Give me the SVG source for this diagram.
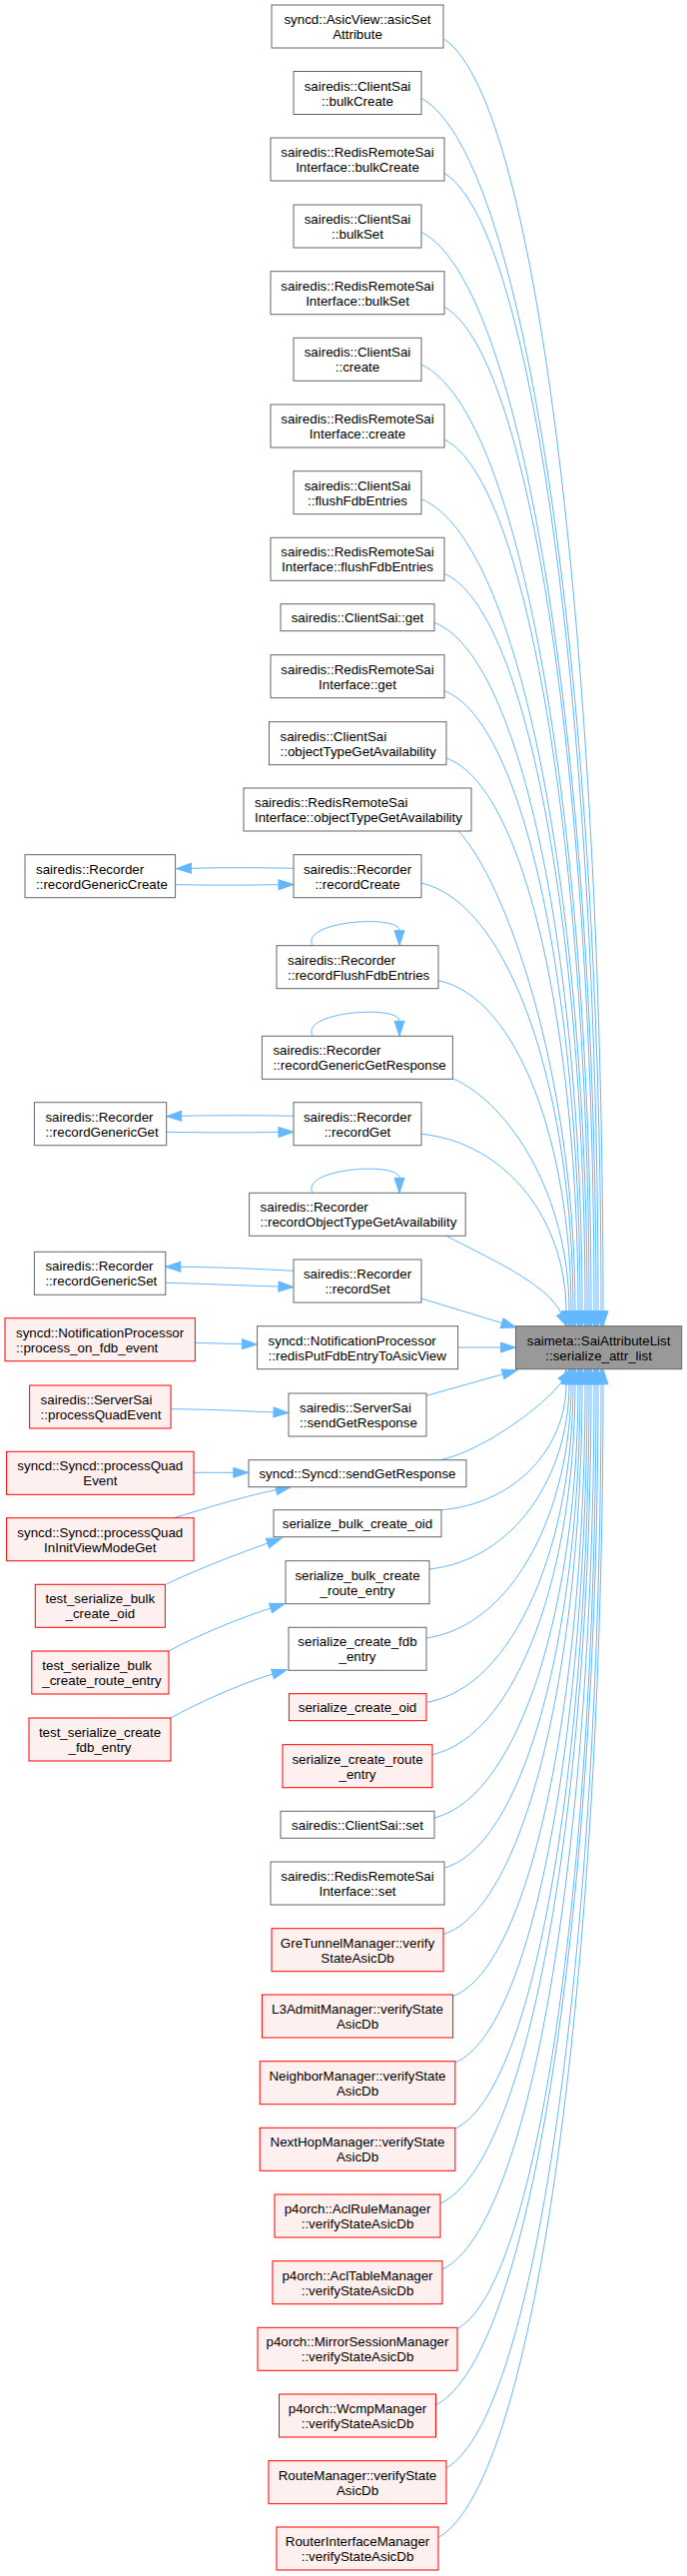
<svg xmlns="http://www.w3.org/2000/svg" width="688" height="2579" viewBox="0 0 688 2579">
<style>
text{font-family:"Liberation Sans",Arial,sans-serif;font-size:13.33px;fill:#000}
.c{text-anchor:middle}
.n rect{fill:#fff;stroke:#666;stroke-width:1}
.r rect{fill:#fff0f0;stroke:#f00;stroke-width:1}
.root rect{fill:#999;stroke:#666;stroke-width:1}
#edges path{fill:none;stroke:#63b8ff;stroke-width:1;marker-end:url(#ah)}
</style>
<defs>
<marker id="ah" markerUnits="userSpaceOnUse" viewBox="0 0 15 10" markerWidth="15" markerHeight="10" refX="0" refY="5" orient="auto" overflow="visible">
<path d="M0,0 L15,5 L0,10 z" fill="#63b8ff" stroke="#63b8ff" stroke-width="1"/>
</marker>
</defs>
<rect width="688" height="2579" fill="#fff"/>
<g id="edges">
<path d="M445,39.3 C540.4,103 604,676 604,1312.7"/>
<path d="M422,98.3 C530,159 602,705.5 602,1312.7"/>
<path d="M445,173.3 C537.4,230.3 599,743 599,1312.7"/>
<path d="M422,232.3 C527,286.3 597,772.5 597,1312.7"/>
<path d="M445,307.3 C535,357.6 595,810 595,1312.7"/>
<path d="M422,365 C524,412.4 592,838.9 592,1312.7"/>
<path d="M445,440 C532,483.6 590,876.4 590,1312.7"/>
<path d="M422,499.7 C521.6,540.4 588,906.2 588,1312.7"/>
<path d="M445,574.3 C529.6,611.2 586,943.5 586,1312.7"/>
<path d="M435,623.3 C523.8,657.8 583,968 583,1312.7"/>
<path d="M445,691.7 C526.6,722.8 581,1002.2 581,1312.7"/>
<path d="M447,759 C526.2,786.7 579,1035.9 579,1312.7"/>
<path d="M458.7,831.7 C505,880 576,1072.2 576,1312.7"/>
<path d="M422,884 C513.2,905.4 574,1098.4 574,1312.7"/>
<path d="M439,981.7 C518.8,998.3 572,1147.2 572,1312.7"/>
<path d="M454,1080 C510,1105 570,1196.4 570,1312.7"/>
<path d="M422,1135.3 C509,1144.2 567,1224 567,1312.7"/>
<path d="M447,1237.3 C490,1260 548,1285 562,1315"/>
<path d="M422,1300 L502.7,1324.6"/>
<path d="M458.6,1349 L501.5,1349"/>
<path d="M427,1397.3 L503.6,1375.8"/>
<path d="M441,1461.7 C485,1452 545,1407 563,1383"/>
<path d="M442,1511.7 C517,1505.4 567,1448.7 567,1385.7"/>
<path d="M430,1571 C514,1561.7 570,1478.4 570,1385.7"/>
<path d="M427,1640 C514,1627.3 572,1512.9 572,1385.7"/>
<path d="M427.8,1704.3 C515.5,1688.4 574,1545 574,1385.7"/>
<path d="M432.5,1756.7 C518.6,1738.2 576,1571.2 576,1385.7"/>
<path d="M435,1820 C521.4,1798.3 579,1602.9 579,1385.7"/>
<path d="M445.5,1870 C526.8,1845.8 581,1627.9 581,1385.7"/>
<path d="M444,1936.7 C527.4,1909.2 583,1661.2 583,1385.7"/>
<path d="M454,1998.3 C533.2,1967.7 586,1692 586,1385.7"/>
<path d="M456,2065 C535.2,2031 588,1725.4 588,1385.7"/>
<path d="M456,2131 C536.4,2093.7 590,1758.4 590,1385.7"/>
<path d="M441,2206 C531.6,2165 592,1795.9 592,1385.7"/>
<path d="M443,2272 C534.2,2227.7 595,1828.9 595,1385.7"/>
<path d="M458.7,2331 C541.7,2283.7 597,1858.4 597,1385.7"/>
<path d="M436.7,2407.7 C534.1,2356.6 599,1896.7 599,1385.7"/>
<path d="M447,2471 C540,2416.7 602,1928.4 602,1385.7"/>
<path d="M439.7,2540 C538.3,2482.3 604,1962.9 604,1385.7"/>
<path d="M313,946.7 C300,922 400,915 400,931.7"/>
<path d="M313,1037.3 C300,1012.6 400,1005.6 400,1022.3"/>
<path d="M313,1194.3 C300,1169.6 400,1162.6 400,1179.3"/>
<path d="M294,869.3 C260,868.5 225,868.5 191.5,869.3"/>
<path d="M175.6,885.7 C210,886.3 245,886.3 279,885.7"/>
<path d="M294,1117.3 C260,1116.5 220,1116.5 181.7,1117.3"/>
<path d="M166.7,1133.3 C205,1134 245,1134 279,1133.5"/>
<path d="M294,1272.3 C260,1270.5 220,1268.5 180.8,1268.3"/>
<path d="M165.8,1284.3 C200,1285 240,1287 279,1288"/>
<path d="M195.4,1344.3 L242.6,1345.6"/>
<path d="M171.1,1410.7 C210,1411 240,1412.5 274,1413.9"/>
<path d="M194,1474.3 L233.8,1474.3"/>
<path d="M174,1519.7 C200,1512 240,1499 276.6,1491.6"/>
<path d="M166.7,1586 C195,1572 240,1555 268,1545"/>
<path d="M169,1653 C196,1638 240,1620 271,1610"/>
<path d="M171,1720 C198,1705 240,1686 273,1676"/>
</g>
<g id="root" class="root"><rect x="516.5" y="1327.7" width="166.2" height="43"/><text class="c" x="599.6" y="1346.7">saimeta::SaiAttributeList</text><text class="c" x="599.6" y="1361.7">::serialize_attr_list</text></g>
<g id="asicSet" class="n"><rect x="272" y="5" width="172" height="43"/><text class="c" x="358" y="24">syncd::AsicView::asicSet</text><text class="c" x="358" y="39">Attribute</text></g>
<g id="cs_bulkCreate" class="n"><rect x="294" y="71.5" width="128" height="43"/><text class="c" x="358" y="90.5">sairedis::ClientSai</text><text class="c" x="358" y="105.5">::bulkCreate</text></g>
<g id="rrs_bulkCreate" class="n"><rect x="271" y="138" width="174" height="43"/><text class="c" x="358" y="157">sairedis::RedisRemoteSai</text><text class="c" x="358" y="172">Interface::bulkCreate</text></g>
<g id="cs_bulkSet" class="n"><rect x="294" y="205" width="128" height="43"/><text class="c" x="358" y="224">sairedis::ClientSai</text><text class="c" x="358" y="239">::bulkSet</text></g>
<g id="rrs_bulkSet" class="n"><rect x="271" y="271.7" width="174" height="43"/><text class="c" x="358" y="290.7">sairedis::RedisRemoteSai</text><text class="c" x="358" y="305.7">Interface::bulkSet</text></g>
<g id="cs_create" class="n"><rect x="294" y="338.3" width="128" height="43"/><text class="c" x="358" y="357.3">sairedis::ClientSai</text><text class="c" x="358" y="372.3">::create</text></g>
<g id="rrs_create" class="n"><rect x="271" y="405" width="174" height="43"/><text class="c" x="358" y="424">sairedis::RedisRemoteSai</text><text class="c" x="358" y="439">Interface::create</text></g>
<g id="cs_flush" class="n"><rect x="294" y="471.7" width="128" height="43"/><text class="c" x="358" y="490.7">sairedis::ClientSai</text><text class="c" x="358" y="505.7">::flushFdbEntries</text></g>
<g id="rrs_flush" class="n"><rect x="271" y="538.3" width="174" height="43"/><text class="c" x="358" y="557.3">sairedis::RedisRemoteSai</text><text class="c" x="358" y="572.3">Interface::flushFdbEntries</text></g>
<g id="cs_get" class="n"><rect x="281" y="604.7" width="154" height="27"/><text class="c" x="358" y="623.2">sairedis::ClientSai::get</text></g>
<g id="rrs_get" class="n"><rect x="271" y="655.7" width="174" height="43"/><text class="c" x="358" y="674.7">sairedis::RedisRemoteSai</text><text class="c" x="358" y="689.7">Interface::get</text></g>
<g id="cs_otga" class="n"><rect x="269.5" y="722.7" width="177.5" height="43"/><text x="280.5" y="741.7">sairedis::ClientSai</text><text x="280.5" y="756.7">::objectTypeGetAvailability</text></g>
<g id="rrs_otga" class="n"><rect x="244" y="789" width="228" height="43"/><text x="255" y="808">sairedis::RedisRemoteSai</text><text x="255" y="823">Interface::objectTypeGetAvailability</text></g>
<g id="recordCreate" class="n"><rect x="294" y="855.7" width="128" height="43"/><text class="c" x="358" y="874.7">sairedis::Recorder</text><text class="c" x="358" y="889.7">::recordCreate</text></g>
<g id="recordGenericCreate" class="n"><rect x="25" y="855.7" width="150.6" height="43"/><text x="36" y="874.7">sairedis::Recorder</text><text x="36" y="889.7">::recordGenericCreate</text></g>
<g id="recordFlush" class="n"><rect x="277" y="946.7" width="162" height="43"/><text x="288" y="965.7">sairedis::Recorder</text><text x="288" y="980.7">::recordFlushFdbEntries</text></g>
<g id="recordGGR" class="n"><rect x="262.4" y="1037.3" width="191" height="43"/><text x="273.4" y="1056.3">sairedis::Recorder</text><text x="273.4" y="1071.3">::recordGenericGetResponse</text></g>
<g id="recordGet" class="n"><rect x="294" y="1103.7" width="128" height="43"/><text class="c" x="358" y="1122.7">sairedis::Recorder</text><text class="c" x="358" y="1137.7">::recordGet</text></g>
<g id="recordGenericGet" class="n"><rect x="34.4" y="1103.7" width="132.3" height="43"/><text x="45.4" y="1122.7">sairedis::Recorder</text><text x="45.4" y="1137.7">::recordGenericGet</text></g>
<g id="recordOTGA" class="n"><rect x="249.6" y="1194.3" width="216.6" height="43"/><text x="260.6" y="1213.3">sairedis::Recorder</text><text x="260.6" y="1228.3">::recordObjectTypeGetAvailability</text></g>
<g id="recordSet" class="n"><rect x="294" y="1261" width="128" height="43"/><text class="c" x="358" y="1280">sairedis::Recorder</text><text class="c" x="358" y="1295">::recordSet</text></g>
<g id="recordGenericSet" class="n"><rect x="34.4" y="1253.3" width="131.4" height="43"/><text x="45.4" y="1272.3">sairedis::Recorder</text><text x="45.4" y="1287.3">::recordGenericSet</text></g>
<g id="redisPut" class="n"><rect x="257.6" y="1327.7" width="201" height="43"/><text x="268.6" y="1346.7">syncd::NotificationProcessor</text><text x="268.6" y="1361.7">::redisPutFdbEntryToAsicView</text></g>
<g id="pofe" class="r"><rect x="5" y="1319.7" width="190.4" height="43"/><text x="16" y="1338.7">syncd::NotificationProcessor</text><text x="16" y="1353.7">::process_on_fdb_event</text></g>
<g id="ss_sendGet" class="n"><rect x="289" y="1395" width="138" height="43"/><text x="300" y="1414">sairedis::ServerSai</text><text x="300" y="1429">::sendGetResponse</text></g>
<g id="ss_pqe" class="r"><rect x="29.6" y="1387" width="141.5" height="43"/><text x="40.6" y="1406">sairedis::ServerSai</text><text x="40.6" y="1421">::processQuadEvent</text></g>
<g id="syncd_sendGet" class="n"><rect x="249" y="1461.7" width="218" height="27"/><text class="c" x="358" y="1480.2">syncd::Syncd::sendGetResponse</text></g>
<g id="syncd_pqe" class="r"><rect x="6.6" y="1453.3" width="187.4" height="43"/><text class="c" x="100.3" y="1472.3">syncd::Syncd::processQuad</text><text class="c" x="100.3" y="1487.3">Event</text></g>
<g id="pqinit" class="r"><rect x="6.6" y="1519.7" width="187.4" height="43"/><text class="c" x="100.3" y="1538.7">syncd::Syncd::processQuad</text><text class="c" x="100.3" y="1553.7">InInitViewModeGet</text></g>
<g id="sbco" class="n"><rect x="274" y="1511.7" width="168" height="27"/><text class="c" x="358" y="1530.2">serialize_bulk_create_oid</text></g>
<g id="sbcre" class="n"><rect x="286" y="1562.7" width="144" height="43"/><text class="c" x="358" y="1581.7">serialize_bulk_create</text><text class="c" x="358" y="1596.7">_route_entry</text></g>
<g id="tsbco" class="r"><rect x="35.3" y="1586.3" width="130.1" height="43"/><text class="c" x="100.3" y="1605.3">test_serialize_bulk</text><text class="c" x="100.3" y="1620.3">_create_oid</text></g>
<g id="scfe" class="n"><rect x="289" y="1629.3" width="138" height="43"/><text class="c" x="358" y="1648.3">serialize_create_fdb</text><text class="c" x="358" y="1663.3">_entry</text></g>
<g id="tsbcre" class="r"><rect x="31.8" y="1653" width="137.2" height="43"/><text x="42.3" y="1672">test_serialize_bulk</text><text x="42.3" y="1687">_create_route_entry</text></g>
<g id="sco" class="r"><rect x="289.4" y="1695.7" width="137.6" height="27"/><text class="c" x="358" y="1714.2">serialize_create_oid</text></g>
<g id="tscfe" class="r"><rect x="29" y="1720" width="142" height="43"/><text class="c" x="100" y="1739">test_serialize_create</text><text class="c" x="100" y="1754">_fdb_entry</text></g>
<g id="scre" class="r"><rect x="283" y="1746.7" width="150" height="43"/><text class="c" x="358" y="1765.7">serialize_create_route</text><text class="c" x="358" y="1780.7">_entry</text></g>
<g id="cs_set" class="n"><rect x="281" y="1813.3" width="154" height="27"/><text class="c" x="358" y="1831.8">sairedis::ClientSai::set</text></g>
<g id="rrs_set" class="n"><rect x="271" y="1864" width="174" height="43"/><text class="c" x="358" y="1883">sairedis::RedisRemoteSai</text><text class="c" x="358" y="1898">Interface::set</text></g>
<g id="gre" class="r"><rect x="272" y="1930.7" width="172" height="43"/><text class="c" x="358" y="1949.7">GreTunnelManager::verify</text><text class="c" x="358" y="1964.7">StateAsicDb</text></g>
<g id="l3" class="r"><rect x="262.4" y="1997" width="191.2" height="43"/><text class="c" x="358" y="2016">L3AdmitManager::verifyState</text><text class="c" x="358" y="2031">AsicDb</text></g>
<g id="neigh" class="r"><rect x="260.2" y="2063.7" width="195.6" height="43"/><text class="c" x="358" y="2082.7">NeighborManager::verifyState</text><text class="c" x="358" y="2097.7">AsicDb</text></g>
<g id="nexthop" class="r"><rect x="260.2" y="2130.3" width="195.6" height="43"/><text class="c" x="358" y="2149.3">NextHopManager::verifyState</text><text class="c" x="358" y="2164.3">AsicDb</text></g>
<g id="aclrule" class="r"><rect x="275" y="2197" width="166" height="43"/><text class="c" x="358" y="2216">p4orch::AclRuleManager</text><text class="c" x="358" y="2231">::verifyStateAsicDb</text></g>
<g id="acltable" class="r"><rect x="273" y="2263.7" width="170" height="43"/><text class="c" x="358" y="2282.7">p4orch::AclTableManager</text><text class="c" x="358" y="2297.7">::verifyStateAsicDb</text></g>
<g id="mirror" class="r"><rect x="258" y="2330.3" width="200" height="43"/><text class="c" x="358" y="2349.3">p4orch::MirrorSessionManager</text><text class="c" x="358" y="2364.3">::verifyStateAsicDb</text></g>
<g id="wcmp" class="r"><rect x="279.5" y="2397" width="157" height="43"/><text class="c" x="358" y="2416">p4orch::WcmpManager</text><text class="c" x="358" y="2431">::verifyStateAsicDb</text></g>
<g id="routemgr" class="r"><rect x="269" y="2463.7" width="178" height="43"/><text class="c" x="358" y="2482.7">RouteManager::verifyState</text><text class="c" x="358" y="2497.7">AsicDb</text></g>
<g id="rif" class="r"><rect x="277" y="2530" width="162" height="43"/><text class="c" x="358" y="2549">RouterInterfaceManager</text><text class="c" x="358" y="2564">::verifyStateAsicDb</text></g>
</svg>
